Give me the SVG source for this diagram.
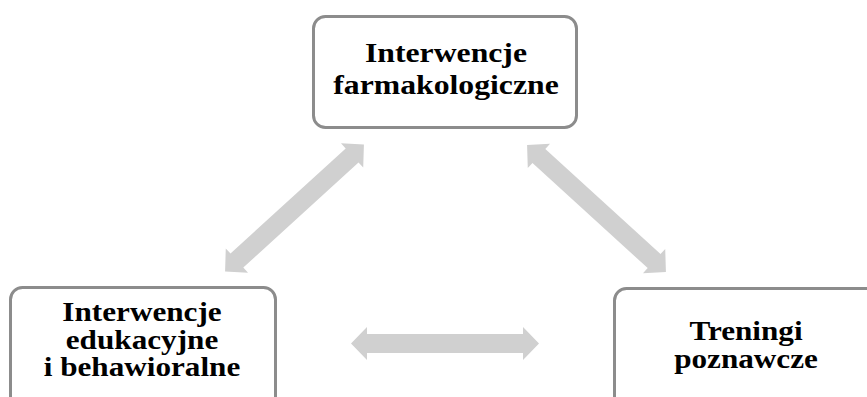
<svg xmlns="http://www.w3.org/2000/svg" width="867" height="397" viewBox="0 0 867 397">
<defs>
<style>
.box{fill:#ffffff;stroke:#8c8c8c;stroke-width:3}
.lbl{font-family:"Liberation Serif","Times New Roman",serif;font-weight:bold;font-size:26px;fill:#000000;text-anchor:middle}
.arr{fill:#d0d0d0}
</style>
<path id="dbl" d="M-94,0 L-78,-16.5 L-78,-9.5 L78,-9.5 L78,-16.5 L94,0 L78,16.5 L78,9.5 L-78,9.5 L-78,16.5 Z"/>
</defs>
<rect width="867" height="397" fill="#ffffff"/>
<g id="connectors">
<use href="#dbl" class="arr" transform="translate(294.5,208) rotate(-42.4)"/>
<use href="#dbl" class="arr" transform="translate(596.5,208.5) rotate(42.4)"/>
<use href="#dbl" class="arr" transform="translate(445,343.5)"/>
</g>
<g id="node-farmakologiczne">
<rect class="box" x="313.5" y="16.5" width="263" height="111" rx="12"/>
<g transform="translate(446,0) scale(1.22,1.05)">
<text class="lbl" x="0" y="59">Interwencje</text>
<text class="lbl" x="0" y="90">farmakologiczne</text>
</g>
</g>
<g id="node-edukacyjne">
<rect class="box" x="10.5" y="287.5" width="265" height="130" rx="12"/>
<g transform="translate(142,0) scale(1.2,1.05)">
<text class="lbl" x="0" y="305.5">Interwencje</text>
<text class="lbl" x="0" y="332">edukacyjne</text>
<text class="lbl" x="0" y="358.5">i behawioralne</text>
</g>
</g>
<g id="node-poznawcze">
<rect class="box" x="614.5" y="288.5" width="265" height="130" rx="12"/>
<g transform="translate(746,0) scale(1.2,1.05)">
<text class="lbl" x="0" y="324">Treningi</text>
<text class="lbl" x="0" y="350.5">poznawcze</text>
</g>
</g>
</svg>
